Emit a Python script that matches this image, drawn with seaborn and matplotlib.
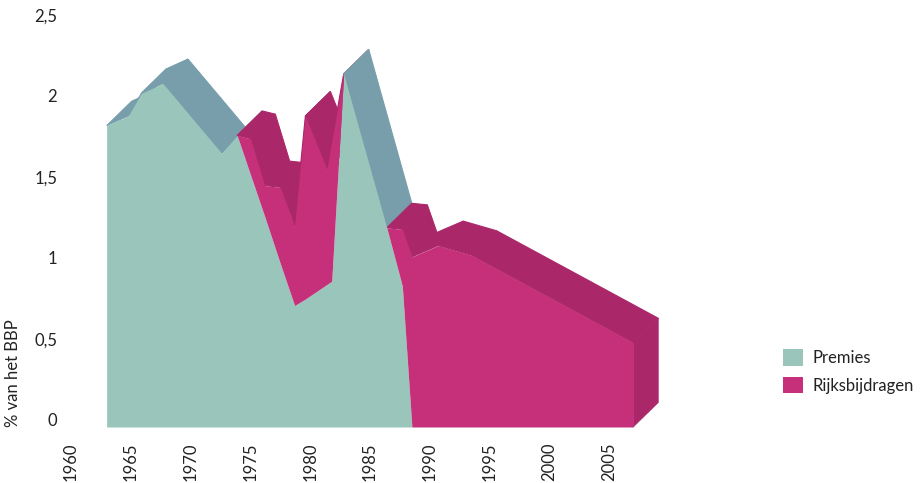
import matplotlib
matplotlib.use("Agg")
import numpy as np
import pandas as pd
import matplotlib.pyplot as plt
import seaborn as sns
from matplotlib.patches import Patch, Polygon
from matplotlib.transforms import ScaledTranslation

# values (stacked: Premies at the bottom, Rijksbijdragen on top)
years = [1963.0, 1964.8, 1965.9, 1967.7, 1972.6, 1973.9, 1975.0, 1976.2, 1977.5, 1978.7,
         1979.6, 1981.4, 1981.8, 1982.8, 1986.4, 1987.7, 1988.5, 1990.7, 1993.5, 2007.0]
premies = [1.86, 1.92, 2.06, 2.12, 1.69, 1.80, 1.56, 1.30, 1.01, 0.75,
           0.79, 0.88, 0.90, 2.18, 1.23, 0.87, 0.00, 0.00, 0.00, 0.00]
rijksbijdragen = [0.00, 0.00, 0.00, 0.00, 0.00, 0.00, 0.22, 0.19, 0.47, 0.49,
                  1.13, 0.71, 0.86, 0.00, 0.00, 0.35, 1.05, 1.12, 1.06, 0.52]
series_names = ['Premies', 'Rijksbijdragen']
xtick_years = list(range(1960, 2006, 5))
ytick_vals = [0, 0.5, 1, 1.5, 2, 2.5]
ytick_labels = ['0', '0,5', '1', '1,5', '2', '2,5']

front_colors = ['#99c5ba', '#c6307b']
top_colors = ['#789eac', '#aa2869']
text_color = '#222222'

# depth of the fake 3d extrusion, in data units
depth_x = 2.09
depth_y = 0.151

sns.set_theme(style='white')
plt.rcParams['font.family'] = ['Lato', 'DejaVu Sans']

df = pd.DataFrame({'Jaar': years, 'Premies': premies, 'Rijksbijdragen': rijksbijdragen})
df['Totaal'] = df['Premies'] + df['Rijksbijdragen']

fig = plt.figure(figsize=(9.21, 4.83), dpi=100)
ax = fig.add_axes([60 / 921, 56 / 483, 640 / 921, 417 / 483])
ax.set_xlim(1959.1, 2012.57)
ax.set_ylim(0, 2.574)

# top faces of the stack, left to right
for i in range(len(df) - 1):
    x0, x1 = df['Jaar'][i], df['Jaar'][i + 1]
    t0, t1 = df['Totaal'][i], df['Totaal'][i + 1]
    on_top = df['Rijksbijdragen'][i] > 0 or df['Rijksbijdragen'][i + 1] > 0
    c = top_colors[1] if on_top else top_colors[0]
    quad = Polygon([(x0, t0), (x1, t1), (x1 + depth_x, t1 + depth_y), (x0 + depth_x, t0 + depth_y)],
                   closed=True, facecolor=c, edgecolor=c, lw=0.8, zorder=1, clip_on=False)
    ax.add_patch(quad)

# right side face
xl, tl = df['Jaar'].iloc[-1], df['Totaal'].iloc[-1]
side = Polygon([(xl, 0), (xl, tl), (xl + depth_x, tl + depth_y), (xl + depth_x, depth_y)],
               closed=True, facecolor=top_colors[1], edgecolor=top_colors[1], lw=0.4,
               zorder=1, clip_on=False)
ax.add_patch(side)

# front faces
ax.fill_between(df['Jaar'], 0, df['Premies'], color=front_colors[0], lw=0, zorder=2)
ax.fill_between(df['Jaar'], df['Premies'], df['Totaal'], color=front_colors[1], lw=0, zorder=3)

ax.set_xticks(xtick_years)
ax.set_xticklabels([str(y) for y in xtick_years], rotation=90)
ax.set_yticks(ytick_vals)
ax.set_yticklabels(ytick_labels)
ax.tick_params(axis='x', length=0, pad=11, labelsize=12, colors=text_color)
ax.tick_params(axis='y', length=0, pad=2, labelsize=12, colors=text_color)
shift = ScaledTranslation(0, 0.07, fig.dpi_scale_trans)
for lbl in ax.get_yticklabels():
    lbl.set_transform(lbl.get_transform() + shift)

ax.set_ylabel('% van het BBP', fontsize=12, color=text_color, loc='bottom')
ax.yaxis.set_label_coords(-0.061, 0)
sns.despine(ax=ax, left=True, bottom=True)
ax.grid(False)

handles = [Patch(facecolor=c, edgecolor='none', label=n) for c, n in zip(front_colors, series_names)]
fig.legend(handles=handles, loc='center left', bbox_to_anchor=(783 / 921, 1 - 371.5 / 483),
           frameon=False, fontsize=12, handlelength=1.2, handleheight=1.15,
           handletextpad=0.55, labelspacing=0.65, borderpad=0, borderaxespad=0,
           labelcolor=text_color)

plt.savefig('out.png', dpi=100)
